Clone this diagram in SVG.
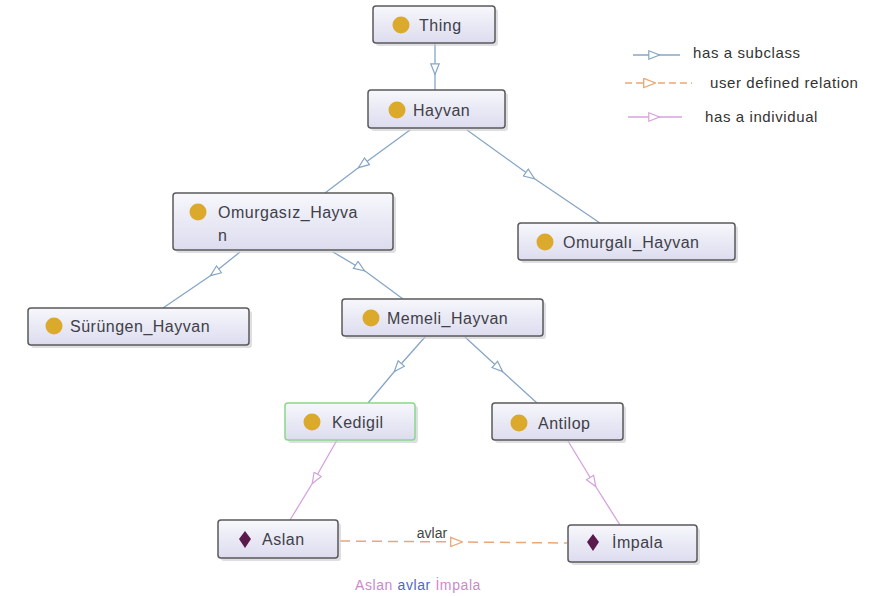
<svg xmlns="http://www.w3.org/2000/svg" width="885" height="596" viewBox="0 0 885 596">
<defs>
<linearGradient id="nodeFill" x1="0" y1="0" x2="0" y2="1">
<stop offset="0" stop-color="#f7f7fc"/>
<stop offset="1" stop-color="#dcdcef"/>
</linearGradient>
<marker id="arrBlue" viewBox="0 0 12 10" refX="12" refY="5" markerWidth="12" markerHeight="10" markerUnits="userSpaceOnUse" orient="auto">
<path d="M0.8,0.8 L11.5,5 L0.8,9.2 z" fill="#ffffff" stroke="#86a6c6" stroke-width="1.2"/>
</marker>
<marker id="arrPink" viewBox="0 0 12 10" refX="12" refY="5" markerWidth="12" markerHeight="10" markerUnits="userSpaceOnUse" orient="auto">
<path d="M0.8,0.8 L11.5,5 L0.8,9.2 z" fill="#ffffff" stroke="#d6a2dc" stroke-width="1.2"/>
</marker>
<marker id="arrOrange" viewBox="0 0 12 10" refX="12" refY="5" markerWidth="14" markerHeight="11" markerUnits="userSpaceOnUse" orient="auto">
<path d="M0.8,0.8 L11.5,5 L0.8,9.2 z" fill="#ffffff" stroke="#e8a878" stroke-width="1.2"/>
</marker>
</defs>
<style>
.box{fill:url(#nodeFill);stroke:#5a5a5a;stroke-width:1.5}
.shadow{fill:#c8c8d0;opacity:0.6}
.green{stroke:#8ad88a}
.dot{fill:#dba92c}
.dia{fill:#5a1a4c}
.lbl{font-family:"Liberation Sans",Arial,sans-serif;font-size:16px;fill:#404048;letter-spacing:0.5px}
.leg{font-family:"Liberation Sans",Arial,sans-serif;font-size:15px;fill:#333;letter-spacing:0.6px}
.sub{fill:none;stroke:#86a6c6;stroke-width:1.3;marker-mid:url(#arrBlue)}
.ind{fill:none;stroke:#d6a2dc;stroke-width:1.3;marker-mid:url(#arrPink)}
.rel{fill:none;stroke:#e8a878;stroke-width:1.5;stroke-dasharray:10,6;marker-mid:url(#arrOrange)}
</style>
<rect width="885" height="596" fill="#ffffff"/>

<g id="connectors">
<path class="sub" d="M435,43 L435,75 L435,90"/>
<path class="sub" d="M410,130 L358,168 L325,193"/>
<path class="sub" d="M467,130 L535,179 L600,223"/>
<path class="sub" d="M240,252 L210,276 L163,308"/>
<path class="sub" d="M333,252 L365,271 L403,299"/>
<path class="sub" d="M425,337 L394,372 L368,403"/>
<path class="sub" d="M465,337 L503,372 L537,403"/>
<path class="ind" d="M337,440 L312,484 L290,520"/>
<path class="ind" d="M568,441 L596,487 L620,525"/>
<path class="rel" d="M340,541 L463,542 L567,543"/>
<text x="432" y="538" text-anchor="middle" font-family="Liberation Sans, Arial, sans-serif" font-size="14" fill="#444">avlar</text>
</g>

<g id="legend">
<path class="sub" d="M633,55 L660,55 L680,55"/>
<text class="leg" x="693" y="58">has a subclass</text>
<path class="rel" d="M625,83 L656,83 L692,83" style="stroke-dasharray:7,4"/>
<text class="leg" x="710" y="88">user defined relation</text>
<path class="ind" d="M628,117 L660,117 L682,117"/>
<text class="leg" x="705" y="122">has a individual</text>
</g>

<g id="node-thing">
<rect class="shadow" x="376" y="9" width="122" height="37" rx="3"/>
<rect class="box" x="373" y="6" width="122" height="37" rx="3"/>
<circle class="dot" cx="401" cy="25" r="8.5"/>
<text class="lbl" x="419" y="30.5">Thing</text>
</g>

<g id="node-hayvan">
<rect class="shadow" x="371" y="93" width="137" height="38" rx="3"/>
<rect class="box" x="368" y="90" width="137" height="38" rx="3"/>
<circle class="dot" cx="397" cy="110" r="8.5"/>
<text class="lbl" x="413" y="115.5">Hayvan</text>
</g>

<g id="node-omurgasiz">
<rect class="shadow" x="176" y="196" width="220" height="57" rx="3"/>
<rect class="box" x="173" y="193" width="220" height="57" rx="3"/>
<circle class="dot" cx="198" cy="212" r="8.5"/>
<text class="lbl" x="218" y="217.5">Omurgasız_Hayva</text>
<text class="lbl" x="218" y="241">n</text>
</g>

<g id="node-omurgali">
<rect class="shadow" x="521" y="226" width="217" height="37" rx="3"/>
<rect class="box" x="518" y="223" width="217" height="37" rx="3"/>
<circle class="dot" cx="545" cy="242" r="8.5"/>
<text class="lbl" x="563" y="247.5">Omurgalı_Hayvan</text>
</g>

<g id="node-surungen">
<rect class="shadow" x="31" y="311" width="221" height="37" rx="3"/>
<rect class="box" x="28" y="308" width="221" height="37" rx="3"/>
<circle class="dot" cx="54" cy="326" r="8.5"/>
<text class="lbl" x="70" y="331.5">Sürüngen_Hayvan</text>
</g>

<g id="node-memeli">
<rect class="shadow" x="345" y="302" width="201" height="37" rx="3"/>
<rect class="box" x="342" y="299" width="201" height="37" rx="3"/>
<circle class="dot" cx="371" cy="318" r="8.5"/>
<text class="lbl" x="387" y="323.5">Memeli_Hayvan</text>
</g>

<g id="node-kedigil">
<rect class="shadow" x="288" y="406" width="130" height="37" rx="3"/>
<rect class="box green" x="285" y="403" width="130" height="37" rx="3"/>
<circle class="dot" cx="312" cy="422" r="8.5"/>
<text class="lbl" x="332" y="427.5">Kedigil</text>
</g>

<g id="node-antilop">
<rect class="shadow" x="495" y="406" width="131" height="37" rx="3"/>
<rect class="box" x="492" y="403" width="131" height="37" rx="3"/>
<circle class="dot" cx="519" cy="423" r="8.5"/>
<text class="lbl" x="538" y="428.5">Antilop</text>
</g>

<g id="node-aslan">
<rect class="shadow" x="221" y="523" width="120" height="38" rx="3"/>
<rect class="box" x="218" y="520" width="120" height="38" rx="3"/>
<path class="dia" d="M245,531 L251,539 L245,548 L239,539 z"/>
<text class="lbl" x="262" y="544.5">Aslan</text>
</g>

<g id="node-impala">
<rect class="shadow" x="571" y="528" width="129" height="37" rx="3"/>
<rect class="box" x="568" y="525" width="129" height="37" rx="3"/>
<path class="dia" d="M593,534 L599,542 L593,551 L587,542 z"/>
<text class="lbl" x="612" y="548">İmpala</text>
</g>

<text x="418" y="590" text-anchor="middle" font-family="Liberation Sans, Arial, sans-serif" font-size="14" letter-spacing="0.6"><tspan fill="#cc88cc">Aslan</tspan> <tspan fill="#5566c4">avlar</tspan> <tspan fill="#cc88cc">İmpala</tspan></text>
</svg>
